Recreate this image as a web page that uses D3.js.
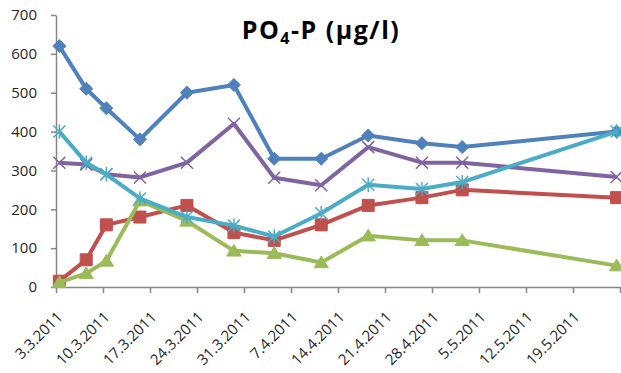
<!DOCTYPE html>
<meta charset="utf-8">
<html>
<head>
<title>PO4-P</title>
<script src="https://cdnjs.cloudflare.com/ajax/libs/d3/7.8.5/d3.min.js"></script>
<style>
body { margin: 0; background: #fff; }
.title { font-family: "Open Sans", sans-serif; font-weight: bold; font-size: 25px; fill: #000; }
</style>
</head>
<body>
<div id="chart"></div>
<script>
// sample dates (d.m.yyyy) and measured values
var sampleDates = ["3.3.2011", "7.3.2011", "10.3.2011", "15.3.2011", "22.3.2011", "29.3.2011",
                   "4.4.2011", "11.4.2011", "18.4.2011", "26.4.2011", "2.5.2011", "25.5.2011"];
var site1 = [620, 510, 460, 380, 500, 520, 330, 330, 390, 370, 360, 400];
var site2 = [15, 70, 160, 180, 210, 140, 120, 160, 210, 230, 250, 230];
var site3 = [12, 35, 67, 222, 170, 93, 87, 63, 132, 120, 120, 55];
var site4 = [320, 315, 290, 282, 320, 420, 281, 262, 360, 320, 320, 283];
var site5 = [400, 320, 290, 228, 180, 158, 130, 190, 263, 252, 270, 400];
var tickLabels = ["3.3.2011", "10.3.2011", "17.3.2011", "24.3.2011", "31.3.2011", "7.4.2011",
                  "14.4.2011", "21.4.2011", "28.4.2011", "5.5.2011", "12.5.2011", "19.5.2011", "26.5.2011"];
var yTicks = [0, 100, 200, 300, 400, 500, 600, 700];

var W = 621, H = 373;
var mLeft = 56, mRight = 620, mTop = 15, mBottom = 287;

function parseDate(s) {
  var p = s.split(".");
  return new Date(+p[2], +p[1] - 1, +p[0]);
}
// points sit in the middle of their day (excel date axis)
function midDay(s) { return d3.timeHour.offset(parseDate(s), 12); }

var tickDates = tickLabels.map(parseDate);

var x = d3.scaleTime()
  .domain([tickDates[0], tickDates[tickDates.length - 1]])
  .range([mLeft, mRight]);
var y = d3.scaleLinear().domain([0, 700]).range([mBottom, mTop]);

var svg = d3.select("#chart").append("svg")
  .attr("width", W).attr("height", H);

// y axis
var yAxis = svg.append("g")
  .attr("transform", "translate(" + mLeft + ",0)")
  .call(d3.axisLeft(y).tickValues(yTicks).tickSize(5).tickPadding(14).tickSizeOuter(0));
yAxis.attr("font-family", "Open Sans, sans-serif").attr("font-size", 15);
yAxis.select(".domain").attr("stroke", "#868686").attr("stroke-width", 1.5);
yAxis.selectAll(".tick line").attr("stroke", "#868686").attr("stroke-width", 1.5);
yAxis.selectAll(".tick text").attr("fill", "#262626");

// x axis
var xAxis = svg.append("g")
  .attr("transform", "translate(0," + mBottom + ")")
  .call(d3.axisBottom(x).tickValues(tickDates).tickSize(6).tickSizeOuter(0)
    .tickFormat(function (d, i) { return i < 12 ? tickLabels[i] : ""; }));
xAxis.attr("font-family", "Open Sans, sans-serif").attr("font-size", 15);
xAxis.select(".domain").attr("stroke", "#868686").attr("stroke-width", 1.5);
xAxis.selectAll(".tick line").attr("stroke", "#868686").attr("stroke-width", 1.5);
xAxis.selectAll(".tick text")
  .attr("fill", "#262626")
  .attr("text-anchor", "end")
  .attr("dy", null)
  .attr("y", null)
  .attr("transform", "translate(7,31) rotate(-45)");

// marker shapes
function diamond(s) { return "M0," + (-s) + "L" + s + ",0L0," + s + "L" + (-s) + ",0Z"; }
function square(s) { return "M" + (-s) + "," + (-s) + "H" + s + "V" + s + "H" + (-s) + "Z"; }
function triangle(s) { return "M0," + (-s) + "L" + (s * 1.1) + "," + (s * 0.8) + "L" + (-s * 1.1) + "," + (s * 0.8) + "Z"; }
function cross(s) { return "M" + (-s) + "," + (-s) + "L" + s + "," + s + "M" + (-s) + "," + s + "L" + s + "," + (-s); }
function star(s) { return cross(s) + "M0," + (-s * 1.2) + "V" + (s * 1.2); }

var series = [
  { values: site1, color: "#4F81BD", shape: diamond, size: 6.5, filled: true },
  { values: site2, color: "#C0504D", shape: square, size: 6, filled: true },
  { values: site3, color: "#9BBB59", shape: triangle, size: 6.5, filled: true },
  { values: site4, color: "#8064A2", shape: cross, size: 6, filled: false },
  { values: site5, color: "#4BACC6", shape: star, size: 6, filled: false }
];

var line = d3.line()
  .x(function (d) { return x(d.date); })
  .y(function (d) { return y(d.v); });

series.forEach(function (s) {
  var pts = sampleDates.map(function (d, i) { return { date: midDay(d), v: s.values[i] }; });
  var g = svg.append("g");
  g.append("path")
    .datum(pts)
    .attr("d", line)
    .attr("fill", "none")
    .attr("stroke", s.color)
    .attr("stroke-width", 4)
    .attr("stroke-linejoin", "round");
  g.selectAll(".m")
    .data(pts)
    .enter().append("path")
    .attr("transform", function (d) { return "translate(" + x(d.date) + "," + y(d.v) + ")"; })
    .attr("d", s.shape(s.size))
    .attr("fill", s.filled ? s.color : "none")
    .attr("stroke", s.color)
    .attr("stroke-width", s.filled ? 1 : 1.5);
});

// title
var title = svg.append("text")
  .attr("class", "title")
  .attr("x", 321).attr("y", 39)
  .attr("text-anchor", "middle")
  .attr("letter-spacing", 1.5);
title.append("tspan").text("PO");
title.append("tspan").attr("font-size", "16px").attr("dy", 5).text("4");
title.append("tspan").attr("dy", -5).text("-P (µg/l)");
</script>
</body>
</html>
